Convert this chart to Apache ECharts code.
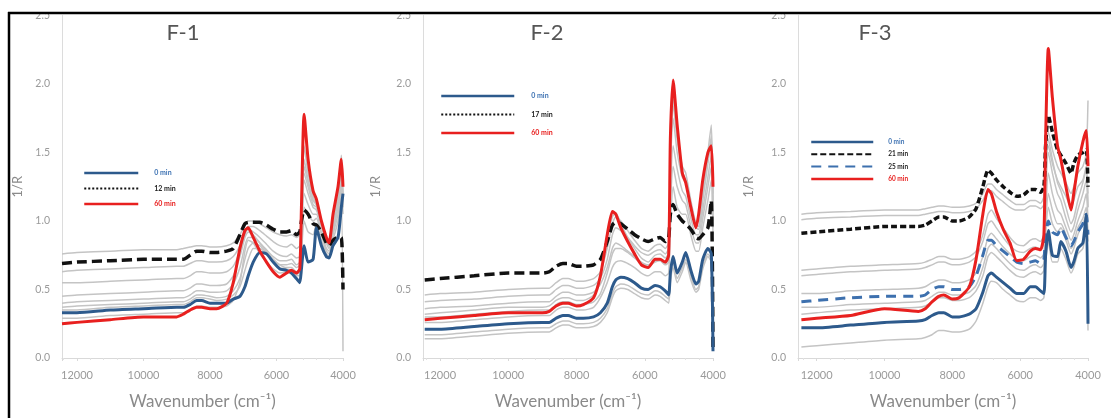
<!DOCTYPE html>
<html>
<head>
<meta charset="utf-8">
<script src="https://cdn.jsdelivr.net/npm/echarts@6/dist/echarts.min.js"></script>
<style>html,body{margin:0;padding:0;background:#fff}#c{width:1111px;height:418px}</style>
</head>
<body>
<div id="c"></div>
<script>
// Wavenumber sample points (cm-1), shared by all panels
const W = [12450,12000,11000,10000,9000,8800,8600,8400,8250,8000,7800,7500,
           7300,7100,6950,6850,6700,6500,6300,6100,5900,5700,5550,5400,
           5300,5250,5170,5050,4900,4800,4650,4500,4420,4300,4150,4050,4000];

const panelTitles = ['F-1','F-2','F-3'];
const yTicks = [0,0.5,1.0,1.5,2.0,2.5];
const xTicks = [12000,10000,8000,6000,4000];

// ---------- F-1 ----------
const f1_0min = [0.33,0.33,0.35,0.36,0.37,0.37,0.39,0.42,0.42,0.40,0.40,0.40,
  0.43,0.45,0.52,0.60,0.70,0.77,0.76,0.70,0.65,0.64,0.62,0.58,
  0.55,0.65,0.82,0.70,0.72,0.95,0.82,0.74,0.73,0.82,0.88,1.10,1.20];
const f1_12min = [0.69,0.70,0.71,0.72,0.72,0.72,0.75,0.78,0.78,0.77,0.77,0.78,
  0.80,0.90,0.98,0.99,0.99,0.99,0.97,0.94,0.92,0.92,0.93,0.90,
  0.92,1.00,1.08,1.05,0.98,0.97,0.92,0.84,0.82,0.86,0.88,0.88,0.50];
const f1_60min = [0.25,0.26,0.28,0.30,0.30,0.32,0.35,0.37,0.37,0.36,0.36,0.40,
  0.55,0.80,0.93,0.95,0.88,0.78,0.70,0.63,0.59,0.62,0.64,0.62,
  0.65,1.10,1.78,1.45,1.22,1.16,1.00,0.88,0.84,1.05,1.25,1.45,1.25];
const f1_other = [
  [0.76,0.77,0.78,0.79,0.79,0.80,0.81,0.82,0.82,0.81,0.81,0.82, 0.84,0.90,0.97,1.00,1.00,0.98,0.95,0.92,0.90,0.89,0.90,0.88, 0.90,1.05,1.30,1.20,1.10,1.08,0.98,0.88,0.85,0.95,1.10,1.25,1.10],
  [0.63,0.64,0.65,0.66,0.67,0.67,0.69,0.71,0.71,0.70,0.70,0.71, 0.74,0.82,0.92,0.96,0.96,0.93,0.89,0.85,0.82,0.81,0.83,0.80, 0.82,1.00,1.40,1.28,1.15,1.12,1.00,0.88,0.84,0.98,1.15,1.35,1.20],
  [0.55,0.55,0.56,0.57,0.58,0.58,0.60,0.63,0.63,0.62,0.62,0.63, 0.67,0.78,0.90,0.94,0.92,0.88,0.83,0.78,0.75,0.74,0.76,0.73, 0.74,0.95,1.45,1.30,1.15,1.12,0.98,0.86,0.82,0.98,1.18,1.40,1.20],
  [0.45,0.46,0.47,0.48,0.49,0.49,0.51,0.54,0.54,0.53,0.53,0.54, 0.60,0.74,0.88,0.92,0.90,0.84,0.79,0.74,0.71,0.71,0.72,0.68, 0.70,0.90,1.35,1.25,1.12,1.10,0.96,0.84,0.80,0.96,1.15,1.38,1.15],
  [0.40,0.41,0.42,0.43,0.44,0.44,0.46,0.49,0.49,0.48,0.48,0.49, 0.54,0.66,0.82,0.88,0.88,0.84,0.78,0.72,0.68,0.68,0.69,0.66, 0.68,0.85,1.20,1.12,1.05,1.05,0.92,0.80,0.78,0.92,1.10,1.30,1.10],
  [0.37,0.38,0.39,0.40,0.41,0.41,0.43,0.46,0.46,0.45,0.44,0.45, 0.49,0.58,0.72,0.80,0.84,0.82,0.77,0.72,0.68,0.66,0.66,0.63, 0.64,0.80,1.10,1.05,1.00,1.02,0.90,0.78,0.76,0.90,1.05,1.25,1.05],
  [0.35,0.35,0.37,0.38,0.39,0.39,0.41,0.44,0.44,0.43,0.42,0.43, 0.46,0.52,0.64,0.72,0.80,0.80,0.76,0.70,0.66,0.65,0.64,0.60, 0.60,0.75,1.00,0.92,0.90,0.98,0.86,0.76,0.74,0.86,1.00,1.20,0.05],
  [0.29,0.29,0.31,0.32,0.33,0.33,0.35,0.38,0.38,0.37,0.37,0.38, 0.42,0.55,0.78,0.86,0.84,0.76,0.70,0.65,0.62,0.63,0.64,0.61, 0.63,0.95,1.55,1.35,1.18,1.12,0.98,0.86,0.82,0.98,1.20,1.48,1.30]
];

// ---------- F-2 ----------
const f2_0min = [0.21,0.21,0.23,0.25,0.26,0.26,0.29,0.31,0.31,0.29,0.29,0.30,
  0.33,0.40,0.52,0.57,0.59,0.58,0.55,0.51,0.50,0.53,0.52,0.49,
  0.46,0.62,0.74,0.62,0.70,0.77,0.64,0.54,0.56,0.72,0.80,0.76,0.05];
const f2_17min = [0.57,0.58,0.60,0.62,0.62,0.63,0.67,0.69,0.69,0.67,0.67,0.68,
  0.72,0.85,0.97,0.99,0.98,0.94,0.90,0.87,0.85,0.87,0.88,0.85,
  0.88,1.05,1.12,1.05,1.00,0.98,0.94,0.88,0.87,0.90,0.95,1.15,0.05];
const f2_60min = [0.28,0.29,0.31,0.33,0.33,0.34,0.38,0.40,0.40,0.38,0.39,0.44,
  0.60,0.90,1.07,1.05,0.95,0.85,0.76,0.68,0.66,0.72,0.72,0.70,
  0.75,1.60,2.03,1.70,1.35,1.28,1.10,0.95,1.05,1.30,1.50,1.55,1.25];
const f2_other = [
  [0.46,0.47,0.48,0.50,0.51,0.51,0.55,0.58,0.58,0.56,0.56,0.58, 0.63,0.80,0.98,1.03,1.00,0.93,0.86,0.80,0.78,0.82,0.83,0.80, 0.84,1.55,1.90,1.62,1.40,1.35,1.15,0.98,0.96,1.20,1.50,1.70,1.20],
  [0.41,0.42,0.43,0.45,0.46,0.46,0.50,0.53,0.53,0.51,0.51,0.53, 0.58,0.72,0.90,0.95,0.93,0.88,0.82,0.77,0.75,0.78,0.79,0.76, 0.80,1.40,1.75,1.50,1.32,1.28,1.10,0.95,0.94,1.15,1.42,1.60,1.10],
  [0.36,0.37,0.38,0.40,0.41,0.41,0.45,0.48,0.48,0.46,0.46,0.48, 0.54,0.66,0.80,0.84,0.82,0.78,0.74,0.70,0.68,0.71,0.72,0.69, 0.72,1.20,1.55,1.38,1.22,1.18,1.02,0.90,0.90,1.08,1.32,1.48,1.00],
  [0.32,0.33,0.35,0.37,0.37,0.38,0.42,0.44,0.44,0.42,0.42,0.46, 0.60,0.88,1.03,1.06,0.98,0.88,0.80,0.73,0.70,0.75,0.76,0.73, 0.77,1.50,1.85,1.60,1.36,1.30,1.12,0.97,0.96,1.18,1.45,1.62,1.15],
  [0.26,0.26,0.28,0.30,0.31,0.31,0.35,0.37,0.37,0.35,0.35,0.37, 0.44,0.55,0.66,0.70,0.71,0.69,0.66,0.62,0.60,0.63,0.63,0.60, 0.62,0.95,1.25,1.10,1.05,1.05,0.90,0.78,0.78,0.95,1.15,1.30,0.90],
  [0.17,0.17,0.19,0.21,0.22,0.22,0.25,0.27,0.27,0.25,0.25,0.26, 0.29,0.36,0.47,0.52,0.54,0.53,0.50,0.47,0.46,0.49,0.48,0.45, 0.43,0.58,0.70,0.58,0.66,0.72,0.60,0.50,0.52,0.68,0.76,0.72,0.10],
  [0.14,0.14,0.16,0.18,0.19,0.19,0.22,0.24,0.24,0.22,0.22,0.23, 0.26,0.33,0.44,0.49,0.51,0.50,0.47,0.44,0.43,0.46,0.45,0.42, 0.40,0.55,0.66,0.55,0.63,0.70,0.57,0.48,0.50,0.65,0.74,0.70,0.10],
  [0.30,0.30,0.32,0.34,0.35,0.35,0.39,0.41,0.41,0.39,0.39,0.41, 0.47,0.62,0.76,0.80,0.80,0.77,0.73,0.69,0.67,0.70,0.71,0.68, 0.70,1.10,1.40,1.25,1.15,1.12,0.96,0.84,0.84,1.02,1.25,1.40,0.95]
];

// ---------- F-3 ----------
const f3_0min = [0.22,0.22,0.24,0.26,0.27,0.28,0.31,0.33,0.33,0.30,0.30,0.32,
  0.36,0.48,0.60,0.62,0.59,0.55,0.51,0.47,0.47,0.52,0.52,0.49,
  0.47,0.75,0.93,0.75,0.74,0.85,0.78,0.66,0.70,0.80,0.84,1.05,0.25];
const f3_21min = [0.91,0.92,0.94,0.96,0.96,0.97,1.00,1.03,1.03,1.00,1.00,1.03,
  1.09,1.25,1.37,1.35,1.30,1.25,1.21,1.18,1.19,1.23,1.23,1.21,
  1.25,1.55,1.77,1.65,1.52,1.48,1.42,1.35,1.42,1.48,1.50,1.52,1.25];
const f3_25min = [0.41,0.42,0.44,0.45,0.45,0.46,0.50,0.52,0.52,0.50,0.50,0.52,
  0.60,0.75,0.86,0.86,0.82,0.78,0.74,0.70,0.69,0.70,0.71,0.69,
  0.72,0.90,1.00,0.92,0.90,0.95,0.88,0.82,0.85,0.92,0.98,1.05,0.90];
const f3_60min = [0.28,0.29,0.31,0.36,0.34,0.36,0.41,0.45,0.46,0.43,0.44,0.52,
  0.72,1.05,1.23,1.20,1.07,0.94,0.84,0.71,0.72,0.78,0.80,0.79,
  0.90,1.60,2.26,1.90,1.55,1.45,1.25,1.08,1.20,1.40,1.58,1.66,1.40];
const f3_other = [
  [1.05,1.06,1.07,1.08,1.08,1.09,1.10,1.11,1.11,1.10,1.10,1.11, 1.13,1.20,1.27,1.27,1.23,1.19,1.15,1.12,1.12,1.15,1.15,1.13, 1.18,1.45,1.65,1.52,1.40,1.35,1.28,1.20,1.25,1.35,1.40,1.50,1.88],
  [1.01,1.02,1.03,1.04,1.04,1.05,1.06,1.07,1.07,1.06,1.06,1.07, 1.09,1.15,1.22,1.22,1.18,1.14,1.10,1.08,1.08,1.11,1.11,1.09, 1.12,1.35,1.55,1.42,1.30,1.25,1.18,1.10,1.15,1.25,1.30,1.40,1.10],
  [0.64,0.65,0.67,0.68,0.69,0.70,0.72,0.74,0.74,0.72,0.72,0.74, 0.78,0.90,1.05,1.08,1.02,0.95,0.88,0.83,0.82,0.86,0.87,0.85, 0.90,1.30,1.60,1.45,1.28,1.22,1.10,0.98,1.02,1.15,1.28,1.38,1.20],
  [0.60,0.61,0.63,0.64,0.65,0.66,0.68,0.70,0.70,0.68,0.68,0.70, 0.74,0.85,0.98,1.00,0.95,0.88,0.82,0.78,0.77,0.80,0.81,0.79, 0.84,1.20,1.50,1.35,1.20,1.15,1.02,0.92,0.96,1.08,1.20,1.30,1.10],
  [0.47,0.47,0.49,0.50,0.51,0.52,0.55,0.57,0.57,0.55,0.55,0.57, 0.62,0.74,0.88,0.91,0.87,0.81,0.76,0.72,0.71,0.74,0.75,0.73, 0.76,1.05,1.35,1.20,1.08,1.05,0.95,0.86,0.90,1.00,1.10,1.20,1.00],
  [0.37,0.37,0.39,0.40,0.41,0.42,0.45,0.48,0.48,0.46,0.46,0.48, 0.53,0.66,0.80,0.83,0.80,0.74,0.69,0.65,0.64,0.67,0.68,0.66, 0.69,0.95,1.20,1.08,0.98,0.98,0.90,0.80,0.84,0.95,1.02,1.10,0.90],
  [0.32,0.33,0.35,0.36,0.37,0.38,0.41,0.44,0.44,0.42,0.42,0.44, 0.49,0.60,0.74,0.77,0.74,0.69,0.64,0.60,0.59,0.62,0.63,0.61, 0.64,0.90,1.10,0.98,0.92,0.95,0.86,0.76,0.80,0.90,0.98,1.05,0.85],
  [0.08,0.09,0.11,0.13,0.14,0.15,0.17,0.20,0.20,0.19,0.19,0.21, 0.27,0.40,0.52,0.56,0.55,0.50,0.46,0.42,0.41,0.44,0.44,0.42, 0.44,0.70,0.85,0.70,0.70,0.80,0.72,0.62,0.66,0.76,0.80,0.95,0.20]
];

// ---------- build ----------
const BLUE = '#2d5a8c', RED = '#e8201f', BLACK = '#111111', BLUE2 = '#3d70ae', GRAY = '#c4c4c4';
const FONT = 'Lato, "Open Sans", sans-serif';
const grids = [
  {left: 62, top: 15.5, width: 281, height: 342.5},
  {left: 423, top: 15.5, width: 290, height: 342.5},
  {left: 798, top: 15.5, width: 290, height: 342.5}
];
const xMax = [12450, 12500, 12550];
const yNameGap = [38, 41, 43];

function pts(vals) { return W.map((w, i) => [w, vals[i]]); }
function line(idx, name, vals, color, width, type, z) {
  return {
    type: 'line', name: name, xAxisIndex: idx, yAxisIndex: idx,
    data: pts(vals), showSymbol: false, symbol: 'none', smooth: 0.2,
    lineStyle: {color: color, width: width, type: type || 'solid'},
    itemStyle: {color: color}, z: z || 2, silent: true
  };
}

const series = [];
[f1_other, f2_other, f3_other].forEach((grp, p) => {
  grp.forEach((v, k) => series.push(line(p, 'other' + p + '_' + k, v, GRAY, 1.5, 'solid', 1)));
});
series.push(line(0, '12 min', f1_12min, BLACK, 3.5, [10, 5], 3));
series.push(line(0, '0 min', f1_0min, BLUE, 3, 'solid', 3));
series.push(line(0, '60 min', f1_60min, RED, 3, 'solid', 4));
series.push(line(1, '17 min', f2_17min, BLACK, 3.5, [10, 5], 3));
series.push(line(1, '0 min', f2_0min, BLUE, 3, 'solid', 3));
series.push(line(1, '60 min', f2_60min, RED, 3, 'solid', 4));
series.push(line(2, '21 min', f3_21min, BLACK, 3.5, [6, 3], 3));
series.push(line(2, '25 min', f3_25min, BLUE2, 3, [10, 7], 3));
series.push(line(2, '0 min', f3_0min, BLUE, 3, 'solid', 3));
series.push(line(2, '60 min', f3_60min, RED, 3, 'solid', 4));

const xAxes = grids.map((g, i) => ({
  type: 'value', gridIndex: i, min: 4000, max: xMax[i], interval: 2000, inverse: true,
  name: 'Wavenumber (cm\u207B\u00B9)', nameLocation: 'middle', nameGap: 35,
  nameTextStyle: {fontSize: 17, color: '#8a8a8a', fontFamily: FONT},
  axisLine: {show: true, lineStyle: {color: '#d9d9d9', width: 1}},
  axisTick: {show: true, length: 3, lineStyle: {color: '#d9d9d9'}},
  minorTick: {show: true, splitNumber: 5, length: 2, lineStyle: {color: '#e2e2e2'}},
  splitLine: {show: false},
  axisLabel: {color: '#9a9a9a', fontSize: 11, margin: 12, fontFamily: FONT, showMaxLabel: false,
    formatter: v => String(v)}
}));
const yAxes = grids.map((g, i) => ({
  type: 'value', gridIndex: i, min: 0, max: 2.5, interval: 0.5,
  name: '1/R', nameLocation: 'middle', nameGap: yNameGap[i],
  nameTextStyle: {fontSize: 13, color: '#8a8a8a', fontFamily: FONT},
  axisLine: {show: true, lineStyle: {color: '#dcdcdc', width: 1}},
  axisTick: {show: false}, splitLine: {show: false},
  axisLabel: {color: '#9a9a9a', fontSize: 10.5, margin: 12, fontFamily: FONT,
    formatter: v => v.toFixed(1)}
}));

const titleCenters = [183, 547, 875];
const titles = panelTitles.map((t, i) => ({
  text: t, left: titleCenters[i], top: 22, textAlign: 'center', padding: 0,
  textStyle: {fontSize: 22, fontWeight: 'normal', color: '#555', fontFamily: FONT}
}));

const legStyle = (fs, lh, pad) => ({fontSize: fs, lineHeight: lh, fontWeight: 'bold', fontFamily: FONT, padding: [0, 0, 0, pad]});
const hideSym = {opacity: 0};
const legends = [
  {orient: 'vertical', left: 83, top: 168, padding: 0, itemWidth: 54, itemHeight: 10, itemGap: 5.5,
   textStyle: legStyle(7, 10, 11), selectedMode: false, itemStyle: hideSym,
   data: [{name: '0 min', lineStyle: {width: 2.5}, textStyle: {color: '#3f73b3'}},
          {name: '12 min', lineStyle: {type: 'dotted', width: 2}, textStyle: {color: '#222'}},
          {name: '60 min', lineStyle: {width: 2.5}, textStyle: {color: '#e8201f'}}]},
  {orient: 'vertical', left: 440, top: 91, padding: 0, itemWidth: 73, itemHeight: 10, itemGap: 8.5,
   textStyle: legStyle(7, 10, 12), selectedMode: false, itemStyle: hideSym,
   data: [{name: '0 min', lineStyle: {width: 2.5}, textStyle: {color: '#3f73b3'}},
          {name: '17 min', lineStyle: {type: 'dotted', width: 2}, textStyle: {color: '#222'}},
          {name: '60 min', lineStyle: {width: 2.5}, textStyle: {color: '#e8201f'}}]},
  {orient: 'vertical', left: 810, top: 138, padding: 0, itemWidth: 62, itemHeight: 8, itemGap: 4.3,
   textStyle: legStyle(6.5, 8, 10), selectedMode: false, itemStyle: hideSym,
   data: [{name: '0 min', lineStyle: {width: 2.5}, textStyle: {color: '#3f73b3'}},
          {name: '21 min', textStyle: {color: '#222'}},
          {name: '25 min', textStyle: {color: '#222'}},
          {name: '60 min', lineStyle: {width: 2.5}, textStyle: {color: '#e8201f'}}]}
];

const chart = echarts.init(document.getElementById('c'), null, {renderer: 'canvas'});
chart.setOption({
  animation: false,
  backgroundColor: '#ffffff',
  title: titles,
  legend: legends,
  grid: grids,
  xAxis: xAxes,
  yAxis: yAxes,
  series: series,
  graphic: [
    {type: 'rect', shape: {x: 0, y: 0, width: 1111, height: 12}, style: {fill: '#fff'}, z: 100},
    {type: 'line', shape: {x1: 8, y1: 13, x2: 1111, y2: 13}, style: {stroke: '#000', lineWidth: 2.5}, z: 101},
    {type: 'line', shape: {x1: 9, y1: 12, x2: 9, y2: 418}, style: {stroke: '#000', lineWidth: 2.5}, z: 101}
  ]
});
</script>
</body>
</html>
